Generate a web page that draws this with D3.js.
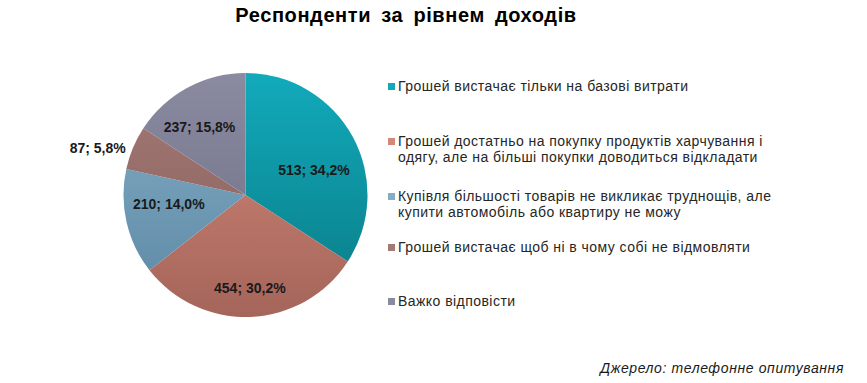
<!DOCTYPE html>
<html>
<head>
<meta charset="utf-8">
<script src="https://cdn.jsdelivr.net/npm/d3@7"></script>
<style>
  body { margin: 0; background: #fff; }
  svg text { font-family: "Liberation Sans", Arial, sans-serif; }
</style>
</head>
<body>
<svg id="chart" width="867" height="383"></svg>
<script>
// data
var categories = [
  "Грошей вистачає тільки на базові витрати",
  "Грошей достатньо на покупку продуктів харчування і одягу, але на більші покупки доводиться відкладати",
  "Купівля більшості товарів не викликає труднощів, але купити автомобіль або квартиру не можу",
  "Грошей вистачає щоб ні в чому собі не відмовляти",
  "Важко відповісти"
];
var legendLines = [
  ["Грошей вистачає тільки на базові витрати"],
  ["Грошей достатньо на покупку продуктів харчування і", "одягу, але на більші покупки доводиться відкладати"],
  ["Купівля більшості товарів не викликає труднощів, але", "купити автомобіль або квартиру не можу"],
  ["Грошей вистачає щоб ні в чому собі не відмовляти"],
  ["Важко відповісти"]
];
var counts = [513, 454, 210, 87, 237];
var percents = ["34,2%", "30,2%", "14,0%", "5,8%", "15,8%"];
var colorsLight = ["#12aabb", "#d4887a", "#84aec8", "#a47a76", "#8a8aa0"];
var colorsDark  = ["#097a84", "#a5655a", "#5c87a2", "#865d59", "#6c6c84"];

var svg = d3.select("#chart");
var cx = 245.5, cy = 195, r = 122;

// title
svg.append("text")
   .attr("x", 406)
   .attr("y", 22)
   .attr("text-anchor", "middle")
   .style("font-size", "20px")
   .style("font-weight", "bold")
   .style("letter-spacing", "0.6px")
   .style("word-spacing", "4px")
   .text("Респонденти за рівнем доходів");

// gradients (lighter at top, darker at bottom)
var defs = svg.append("defs");
categories.forEach(function(c, i) {
  var grad = defs.append("linearGradient")
      .attr("id", "grad" + i)
      .attr("gradientUnits", "userSpaceOnUse")
      .attr("x1", 0).attr("y1", -r)
      .attr("x2", 0).attr("y2", r);
  grad.append("stop").attr("offset", "0%").attr("stop-color", colorsLight[i]);
  grad.append("stop").attr("offset", "100%").attr("stop-color", colorsDark[i]);
});

var pie = d3.pie().sort(null).value(function(d) { return d; });
var arcs = pie(counts);
var arc = d3.arc().innerRadius(0).outerRadius(r);

var g = svg.append("g").attr("transform", "translate(" + cx + "," + cy + ")");

g.selectAll(".slice")
 .data(arcs)
 .enter()
 .append("path")
 .attr("class", "slice")
 .attr("d", arc)
 .attr("fill", function(d, i) { return "url(#grad" + i + ")"; });

// labels: inside except the small one, small nudges like excel placement
var labelArc = d3.arc().innerRadius(r * 0.62).outerRadius(r * 0.62);
var outerArc = d3.arc().innerRadius(r * 1.1).outerRadius(r * 1.1);
var nudge = [[2, 11], [1, 18], [-3, -8], [4, 5], [-10, -1]];
var labelPos = arcs.map(function(d, i) {
  var p = (i == 3) ? outerArc.centroid(d) : labelArc.centroid(d);
  return [p[0] + nudge[i][0], p[1] + nudge[i][1]];
});

g.selectAll(".lbl")
 .data(arcs)
 .enter()
 .append("text")
 .attr("class", "lbl")
 .attr("x", function(d, i) { return labelPos[i][0]; })
 .attr("y", function(d, i) { return labelPos[i][1]; })
 .attr("dy", "0.35em")
 .attr("text-anchor", function(d, i) { return i == 3 ? "end" : "middle"; })
 .style("font-size", "14px")
 .style("font-weight", "bold")
 .style("fill", "#1a1a1a")
 .text(function(d, i) { return counts[i] + "; " + percents[i]; });

// legend
var legendY = [91, 146, 201, 252, 306];
var legend = svg.append("g");
legendLines.forEach(function(lines, i) {
  legend.append("rect")
     .attr("x", 388)
     .attr("y", legendY[i] - 8)
     .attr("width", 7)
     .attr("height", 7)
     .attr("fill", colorsLight[i]);
  lines.forEach(function(t, j) {
    legend.append("text")
       .attr("x", 398)
       .attr("y", legendY[i] + j * 16)
       .style("font-size", "14px")
       .style("letter-spacing", "0.45px")
       .style("fill", "#262626")
       .text(t);
  });
});

// source
svg.append("text")
   .attr("x", 844)
   .attr("y", 373)
   .attr("text-anchor", "end")
   .style("font-size", "14px")
   .style("letter-spacing", "0.6px")
   .style("font-style", "italic")
   .style("fill", "#1a1a1a")
   .text("Джерело: телефонне опитування");
</script>
</body>
</html>
